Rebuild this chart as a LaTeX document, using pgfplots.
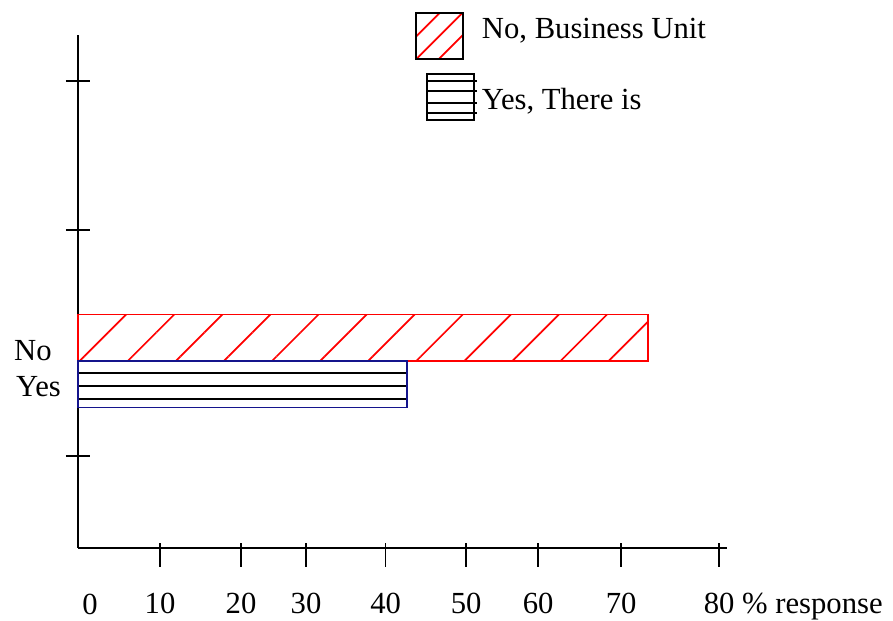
\documentclass[border=0pt]{standalone}
\usepackage{fontspec}
\setmainfont{Liberation Serif}
\usepackage{pgfplots}
\pgfplotsset{compat=1.18}
\usetikzlibrary{patterns.meta}
\definecolor{navyb}{RGB}{20,20,140}
\begin{document}
\fontsize{23}{27}\selectfont
\begin{tikzpicture}[x=1pt,y=1pt]
\useasboundingbox (-58.5,-54.75) rectangle (611.25,411);
\begin{axis}[
  anchor=origin, at={(0,0)},
  x=6.02pt, y=75pt,
  xmin=0, xmax=80.87, ymin=0, ymax=5.13,
  axis x line=bottom, axis y line=left,
  axis line style={-, line width=1.4pt, black},
  clip=false,
  tick align=center,
  major tick length=18pt,
  tick style={black, line width=1.3pt},
  xtick={10.22,20.31,28.41,38.32,48.35,57.32,67.66,79.88},
  xticklabels={10,20,30,40,50,60,70,{80\rlap{ \% response}}},
  extra x ticks={0}, extra x tick labels={0},
  extra x tick style={major tick length=0pt, xticklabel style={xshift=9pt, yshift=-10.5pt}},
  xtick style={yshift=-5.25pt},
  ytick={0.92,3.18,4.67}, yticklabels={},
  tick label style={font=\fontsize{23}{27}\selectfont},
  xticklabel style={anchor=base, yshift=-39.75pt},
  /pgf/number format/assume math mode=true,
  legend style={at={(axis description cs:0.519,1.0448)}, anchor=north west,
    draw=none, fill=none, inner sep=0pt, row sep=9.75pt,
    font=\fontsize{23}{27}\selectfont,
    nodes={inner xsep=0pt, inner ysep=0pt},
    /tikz/every odd column/.append style={column sep=3pt}},
  legend cell align=left,
]
\addplot[xbar, bar width=0.465, bar shift=0.2325, draw=red, line width=1.3pt,
  pattern={Lines[angle=45,distance=25.5pt,line width=1.3pt,yshift=-9pt]}, pattern color=red,
  legend image code/.code={
    \draw[red, line width=1.3pt, fill=none] (-8.25pt,-4.75pt) -- (9.25pt,12.75pt);
    \draw[red, line width=1.3pt, fill=none] (-8.25pt,-21.75pt) -- (26.25pt,12.75pt);
    \draw[red, line width=1.3pt, fill=none] (8.75pt,-21.75pt) -- (27pt,-3.5pt);
    \draw[black, line width=1.4pt, fill=none] (-8.25pt,-21.75pt) rectangle (27pt,12.75pt);}]
  coordinates {(71.0,1.87)};
\addlegendentry{No, Business Unit}
\addplot[xbar, bar width=0.465, bar shift=-0.2325, draw=navyb, line width=1.3pt,
  legend image code/.code={
    \draw[black, line width=1.4pt, fill=none] (0pt,-14.25pt) rectangle (35.25pt,20.25pt);
    \draw[black, line width=1.3pt] (0pt,15pt) -- (37.5pt,15pt);
    \draw[black, line width=1.3pt] (0pt,7.5pt) -- (37.5pt,7.5pt);
    \draw[black, line width=1.3pt] (0pt,-1.5pt) -- (37.5pt,-1.5pt);
    \draw[black, line width=1.3pt] (0pt,-9pt) -- (37.5pt,-9pt);}]
  coordinates {(41.0,1.87)};
\addlegendentry{Yes, There is}
\addplot[black, line width=1.4pt, forget plot] coordinates {(0.1,1.75) (40.9,1.75)};
\addplot[black, line width=1.4pt, forget plot] coordinates {(0.1,1.62) (40.9,1.62)};
\addplot[black, line width=1.4pt, forget plot] coordinates {(0.1,1.49) (40.9,1.49)};
\node[anchor=base west, inner sep=0pt] at (axis cs:-7.98,1.87) {No};
\node[anchor=base west, inner sep=0pt] at (axis cs:-7.73,1.51) {Yes};
\end{axis}
\end{tikzpicture}
\end{document}
